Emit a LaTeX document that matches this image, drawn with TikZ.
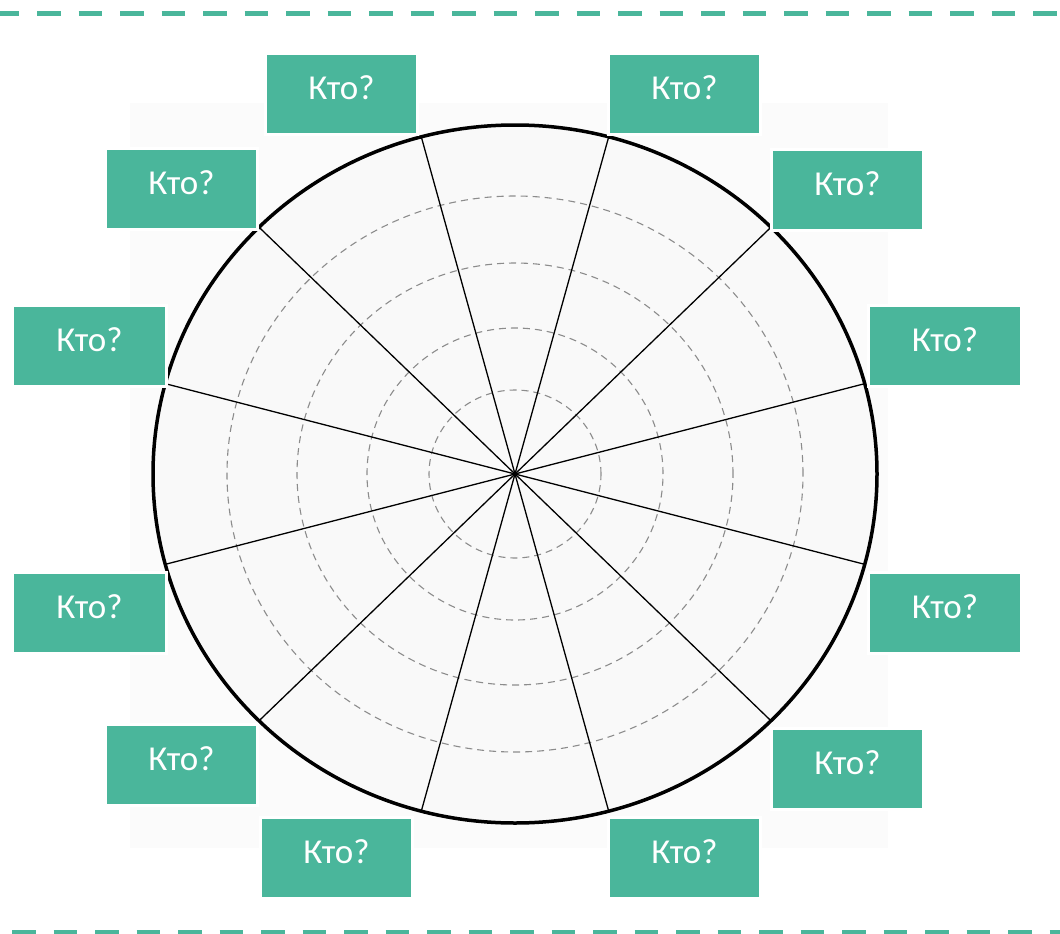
\documentclass[tikz,border=0pt]{standalone}
\usepackage{fontspec}
\usetikzlibrary{calc}
\setmainfont{Carlito}
\definecolor{kgreen}{HTML}{4AB69B}
\definecolor{bgray}{HTML}{FBFBFB}
\definecolor{wgray}{HTML}{F9F9F9}
\begin{document}
\begin{tikzpicture}[x=1pt,y=-1pt,
  kbox/.style={fill=kgreen, draw=white, line width=3pt, anchor=north west,
    minimum width=152pt, minimum height=81pt, inner sep=0pt,
    text height=24pt, text depth=13pt, text=white,
    font=\fontsize{35}{40}\selectfont},
  gline/.style={draw=kgreen, line width=5pt, dash pattern=on 23.7pt off 17.8pt},
  ring/.style={draw=black!45, line width=1.1pt, dash pattern=on 7pt off 5pt},
  spoke/.style={draw=black, line width=1.3pt},
  rim/.style={draw=black, line width=3.5pt}]
\useasboundingbox (0,0) rectangle (1060,934);
% top and bottom dashed rules
\coordinate (tl) at (-4.5,14);
\coordinate (tr) at (1064,14);
\coordinate (bl) at (12,932);
\coordinate (br) at (1064,932);
\draw[gline] (tl) -- (tr);
\draw[gline] (bl) -- (br);
% faint background
\fill[bgray] (130,103) rectangle (888,848);
% wheel
\coordinate (c) at (515,474);
\fill[wgray] (c) ellipse [x radius=362pt, y radius=349pt];
\draw[ring] (c) ellipse [x radius=86pt, y radius=84pt];
\draw[ring] (c) ellipse [x radius=148pt, y radius=146pt];
\draw[ring] (c) ellipse [x radius=218pt, y radius=211pt];
\draw[ring] (c) ellipse [x radius=288pt, y radius=278pt];
\foreach \k in {0,...,11}{
  \pgfmathsetmacro{\ang}{15+30*\k}
  \coordinate (p\k) at ($(c)+(\ang:362pt and 349pt)$);
  \draw[spoke] (c) -- (p\k);
}
\draw[rim] (c) ellipse [x radius=362pt, y radius=349pt];
% labels
\node[kbox] (b1) at (264,52) {Кто?};
\node[kbox] (b2) at (607,52) {Кто?};
\node[kbox] (b3) at (104,147) {Кто?};
\node[kbox] (b4) at (770,148) {Кто?};
\node[kbox, minimum width=154pt] (b5) at (11,304) {Кто?};
\node[kbox, minimum width=153pt] (b6) at (867,304) {Кто?};
\node[kbox, minimum width=154pt] (b7) at (11,571) {Кто?};
\node[kbox, minimum width=153pt] (b8) at (867,571) {Кто?};
\node[kbox] (b9) at (104,723) {Кто?};
\node[kbox] (b10) at (770,727) {Кто?};
\node[kbox] (b11) at (259,816) {Кто?};
\node[kbox] (b12) at (607,816) {Кто?};
\end{tikzpicture}
\end{document}
